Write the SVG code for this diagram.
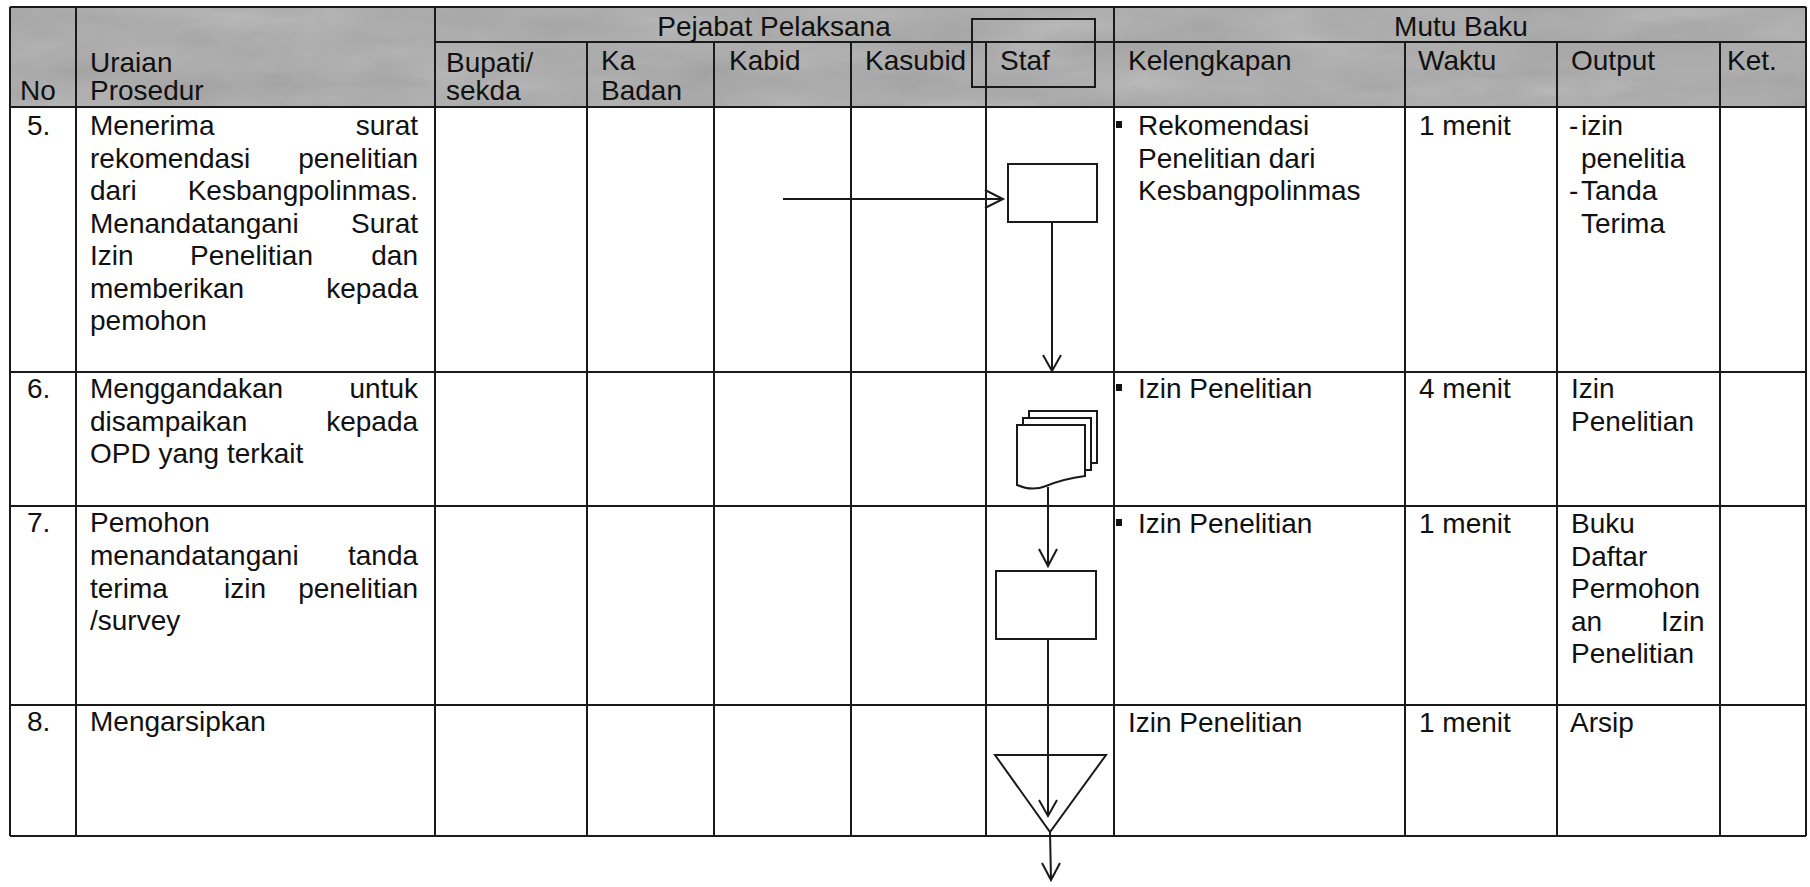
<svg xmlns="http://www.w3.org/2000/svg" width="1810" height="887" viewBox="0 0 1810 887">
<style>
  text { font-family: "Liberation Sans", Arial, sans-serif; font-size: 28px; fill: #111; }
  .grid line { stroke: #1a1a1a; stroke-width: 2; }
  .shape { fill: none; stroke: #1a1a1a; stroke-width: 2; stroke-linejoin: miter; }
  .conn line, .conn polyline { fill: none; stroke: #1a1a1a; stroke-width: 2; }
  .bullet { fill: #111; }
</style>
<defs>
  <filter id="tex" x="0" y="0" width="100%" height="100%">
    <feTurbulence type="fractalNoise" baseFrequency="0.008 0.03" numOctaves="4" seed="7"/>
    <feColorMatrix type="saturate" values="0"/>
  </filter>
</defs>
<rect x="0" y="0" width="1810" height="887" fill="#ffffff"/>

<!-- header shading -->
<g id="header-bg">
  <rect x="10" y="7" width="1796" height="100" fill="#a9a9a9"/>
  <rect x="10" y="7" width="1796" height="100" filter="url(#tex)" opacity="0.4"/>
</g>

<!-- table grid -->
<g id="grid" class="grid">
  <line x1="10" y1="7" x2="1806" y2="7"/>
  <line x1="435" y1="42" x2="1806" y2="42"/>
  <line x1="10" y1="107" x2="1806" y2="107"/>
  <line x1="10" y1="372" x2="1806" y2="372"/>
  <line x1="10" y1="506" x2="1806" y2="506"/>
  <line x1="10" y1="705" x2="1806" y2="705"/>
  <line x1="10" y1="836" x2="1806" y2="836"/>
  <line x1="10" y1="7" x2="10" y2="836"/>
  <line x1="76" y1="7" x2="76" y2="836"/>
  <line x1="435" y1="7" x2="435" y2="836"/>
  <line x1="587" y1="42" x2="587" y2="836"/>
  <line x1="714" y1="42" x2="714" y2="836"/>
  <line x1="851" y1="42" x2="851" y2="836"/>
  <line x1="986" y1="42" x2="986" y2="836"/>
  <line x1="1114" y1="7" x2="1114" y2="836"/>
  <line x1="1405" y1="42" x2="1405" y2="836"/>
  <line x1="1557" y1="42" x2="1557" y2="836"/>
  <line x1="1720" y1="42" x2="1720" y2="836"/>
  <line x1="1806" y1="7" x2="1806" y2="836"/>
</g>

<!-- header texts -->
<g id="header">
  <text x="20" y="100">No</text>
  <text x="90" y="72">Uraian</text>
  <text x="90" y="100">Prosedur</text>
  <text x="774" y="36" text-anchor="middle">Pejabat Pelaksana</text>
  <text x="1461" y="36" text-anchor="middle">Mutu Baku</text>
  <text x="446" y="72">Bupati/</text>
  <text x="446" y="100">sekda</text>
  <text x="601" y="70">Ka</text>
  <text x="601" y="100">Badan</text>
  <text x="729" y="70">Kabid</text>
  <text x="865" y="70">Kasubid</text>
  <text x="1000" y="70">Staf</text>
  <rect id="staf-box" class="shape" x="972" y="19" width="123" height="68"/>
  <text x="1128" y="70">Kelengkapan</text>
  <text x="1418" y="70">Waktu</text>
  <text x="1571" y="70">Output</text>
  <text x="1727" y="70">Ket.</text>
</g>

<!-- row 5 -->
<g id="row5">
  <text x="27" y="135">5.</text>
  <text y="135"><tspan x="90">Menerima </tspan><tspan x="355.8">surat</tspan></text>
  <text y="167.5"><tspan x="90">rekomendasi </tspan><tspan x="298.2">penelitian</tspan></text>
  <text y="200"><tspan x="90">dari </tspan><tspan x="187.7">Kesbangpolinmas.</tspan></text>
  <text y="232.5"><tspan x="90">Menandatangani </tspan><tspan x="351.1">Surat</tspan></text>
  <text y="265"><tspan x="90">Izin </tspan><tspan x="190">Penelitian </tspan><tspan x="371.3">dan</tspan></text>
  <text y="297.5"><tspan x="90">memberikan </tspan><tspan x="326.2">kepada</tspan></text>
  <text x="90" y="330">pemohon</text>
  <rect class="bullet" x="1116" y="121" width="6" height="7"/>
  <text x="1138" y="135">Rekomendasi</text>
  <text x="1138" y="167.5">Penelitian dari</text>
  <text x="1138" y="200">Kesbangpolinmas</text>
  <text x="1419" y="135">1 menit</text>
  <text x="1569" y="135">-<tspan x="1581">izin</tspan></text>
  <text x="1581" y="167.5">penelitia</text>
  <text x="1569" y="200">-<tspan x="1581">Tanda</tspan></text>
  <text x="1581" y="232.5">Terima</text>
</g>

<!-- row 6 -->
<g id="row6">
  <text x="27" y="398">6.</text>
  <text y="398"><tspan x="90">Menggandakan </tspan><tspan x="349.5">untuk</tspan></text>
  <text y="430.5"><tspan x="90">disampaikan </tspan><tspan x="326.2">kepada</tspan></text>
  <text x="90" y="463">OPD yang terkait</text>
  <rect class="bullet" x="1116" y="384" width="6" height="7"/>
  <text x="1138" y="398">Izin Penelitian</text>
  <text x="1419" y="398">4 menit</text>
  <text x="1571" y="398">Izin</text>
  <text x="1571" y="431">Penelitian</text>
</g>

<!-- row 7 -->
<g id="row7">
  <text x="27" y="532">7.</text>
  <text x="90" y="532">Pemohon</text>
  <text y="565"><tspan x="90">menandatangani </tspan><tspan x="348">tanda</tspan></text>
  <text y="597.5"><tspan x="90">terima </tspan><tspan x="224">izin </tspan><tspan x="298.2">penelitian</tspan></text>
  <text x="90" y="630">/survey</text>
  <rect class="bullet" x="1116" y="519" width="6" height="7"/>
  <text x="1138" y="533">Izin Penelitian</text>
  <text x="1419" y="533">1 menit</text>
  <text x="1571" y="533">Buku</text>
  <text x="1571" y="565.5">Daftar</text>
  <text x="1571" y="598">Permohon</text>
  <text y="630.5"><tspan x="1571">an </tspan><tspan x="1661">Izin</tspan></text>
  <text x="1571" y="663">Penelitian</text>
</g>

<!-- row 8 -->
<g id="row8">
  <text x="27" y="731">8.</text>
  <text x="90" y="731">Mengarsipkan</text>
  <text x="1128" y="732">Izin Penelitian</text>
  <text x="1419" y="732">1 menit</text>
  <text x="1570" y="732">Arsip</text>
</g>

<!-- flowchart nodes -->
<g id="node-process1">
  <rect class="shape" x="1008" y="164" width="89" height="58"/>
</g>
<g id="node-multidoc">
  <path class="shape" d="M1029,418 V411 H1097 V463 H1091"/>
  <path class="shape" d="M1023,425 V418 H1091 V470 H1085"/>
  <path class="shape" d="M1017,425 H1085 V476 C1070,478 1058,481 1046,486 C1036,490 1026,489 1017,485 Z"/>
</g>
<g id="node-process2">
  <rect class="shape" x="996" y="571" width="100" height="68"/>
</g>
<g id="node-archive">
  <polygon class="shape" points="995,755 1106,755 1050,832"/>
</g>

<!-- connectors -->
<g id="connectors" class="conn">
  <line x1="783" y1="199" x2="1003" y2="199"/>
  <polyline points="985,190 1003,199 985,208"/>
  <line x1="1052" y1="222" x2="1052" y2="371"/>
  <polyline points="1043,355 1052,371 1061,355"/>
  <line x1="1048" y1="487" x2="1048" y2="566"/>
  <polyline points="1039,549 1048,566 1057,549"/>
  <line x1="1048" y1="639" x2="1048" y2="816"/>
  <polyline points="1039,800 1048,816 1057,800"/>
  <line x1="1050" y1="832" x2="1051" y2="880"/>
  <polyline points="1042,863 1051,880 1060,863"/>
</g>
</svg>
